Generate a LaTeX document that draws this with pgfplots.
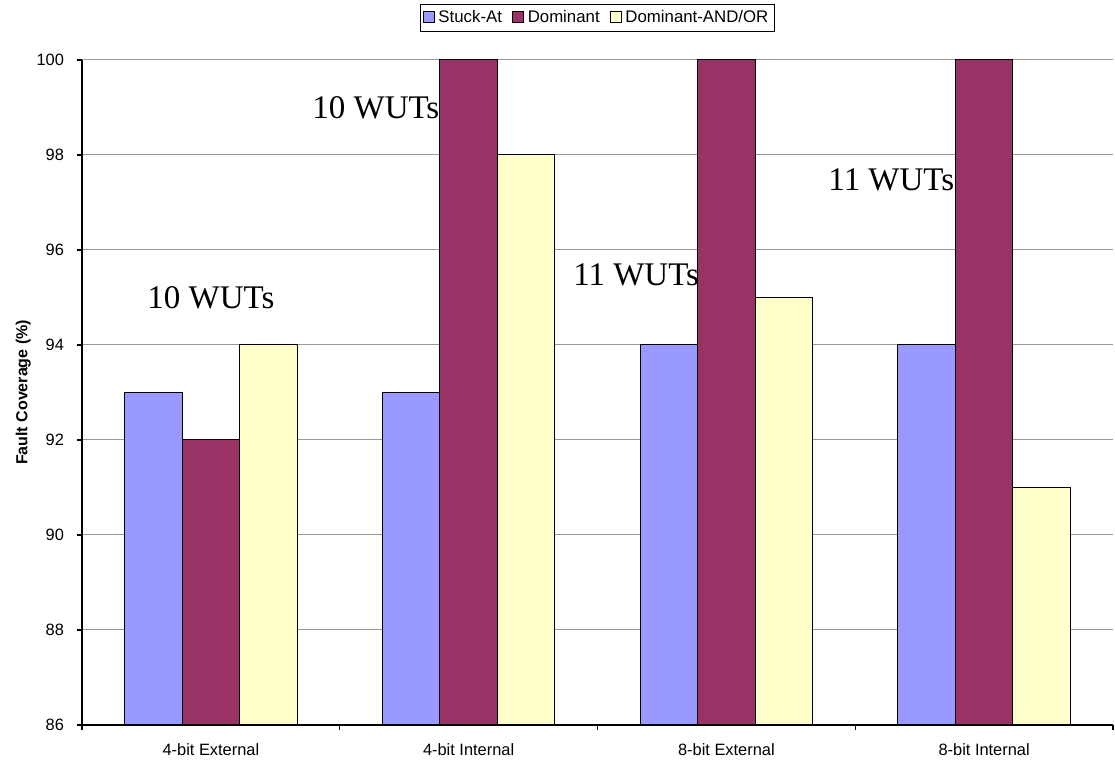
\documentclass[border=0pt]{standalone}
\usepackage{pgfplots}
\pgfplotsset{compat=1.18}
\usetikzlibrary{calc}
\usepackage{fontspec}
\setmainfont{Liberation Sans}
\newfontfamily\serifwut{Liberation Serif}
\definecolor{stuck}{HTML}{9999FF}
\definecolor{domin}{HTML}{993366}
\definecolor{andor}{HTML}{FFFFCC}

\begin{document}
\begin{tikzpicture}
\begin{axis}[
    name=ax,
    scale only axis,
    width=515.5pt,
    height=332.5pt,
    ybar=0pt,
    bar width=28.75pt,
    xmin=-0.5, xmax=3.5,
    ymin=86, ymax=100,
    ytick={86,88,...,100},
    xtick={-0.5,0.5,1.5,2.5,3.5},
    xticklabels={},
    extra x ticks={0,1,2,3},
    extra x tick labels={4-bit External,4-bit Internal,8-bit External,8-bit Internal},
    extra x tick style={major tick length=0pt},
    axis x line*=bottom,
    axis y line*=left,
    axis line style={-,black,line width=0.6pt},
    tick align=outside,
    tick style={black,line width=0.6pt},
    major tick length=2.5pt,
    ymajorgrids=true,
    grid style={gray!80,line width=0.5pt},
    ticklabel style={font=\fontsize{8.2}{9}\selectfont},
    /pgf/number format/assume math mode=true,
    xticklabel style={yshift=-6pt},
    yticklabel style={xshift=-3pt},
    ylabel={\bfseries Fault Coverage (\%)},
    ylabel style={font=\fontsize{8}{9}\selectfont, yshift=-4pt},
    legend style={
        at={(0.5,1)}, anchor=south, yshift=14pt,
        legend columns=3,
        draw=black, line width=0.5pt,
        font=\fontsize{8.4}{9}\selectfont,
        inner sep=1pt,
        /tikz/every even column/.append style={column sep=3pt},
    },
    legend image code/.code={
        \draw[#1,draw=black,line width=0.4pt] (0pt,-2.5pt) rectangle (5.5pt,3pt);
    },
]

\addplot[fill=stuck, draw=black, line width=0.5pt] coordinates {
    (0,93) (1,93) (2,94) (3,94)
};
\addlegendentry{Stuck-At}

\addplot[fill=domin, draw=black, line width=0.5pt] coordinates {
    (0,92) (1,100) (2,100) (3,100)
};
\addlegendentry{Dominant}

\addplot[fill=andor, draw=black, line width=0.5pt] coordinates {
    (0,94) (1,98) (2,95) (3,91)
};
\addlegendentry{Dominant-AND/OR}

\node[font=\serifwut\fontsize{16.5}{18}\selectfont] at (axis cs:0,95.0) {10 WUTs};
\node[font=\serifwut\fontsize{16.5}{18}\selectfont] at (axis cs:0.64,99.0) {10 WUTs};
\node[font=\serifwut\fontsize{16.5}{18}\selectfont] at (axis cs:1.65,95.47) {11 WUTs};
\node[font=\serifwut\fontsize{16.5}{18}\selectfont] at (axis cs:2.64,97.47) {11 WUTs};
\end{axis}
\pgfresetboundingbox
\path[use as bounding box] ($(ax.south west)+(-41pt,-19pt)$) rectangle ($(ax.north east)+(1pt,30pt)$);
\end{tikzpicture}
\end{document}
